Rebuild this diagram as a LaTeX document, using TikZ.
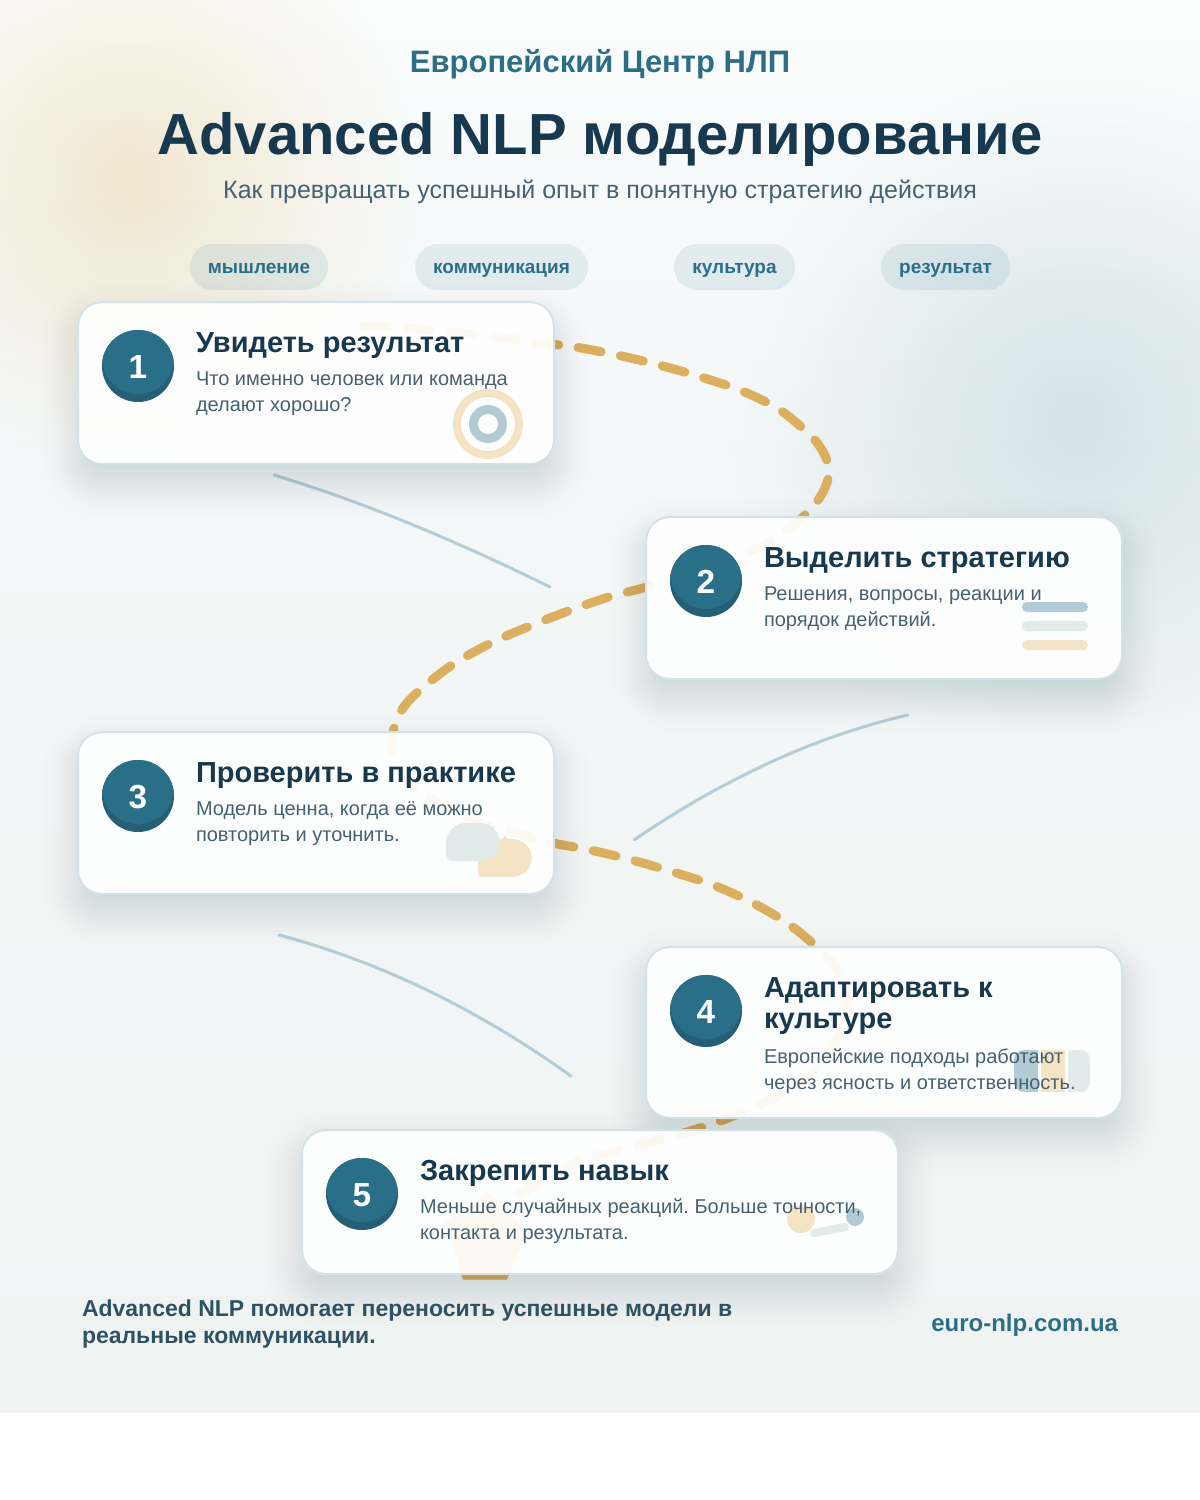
\documentclass[tikz,border=0pt]{standalone}
\usepackage{fontspec}
\setmainfont{Liberation Sans}
\usetikzlibrary{fadings}
\definecolor{tealc}{HTML}{2A6F88}
\definecolor{tealdark}{HTML}{245F75}
\definecolor{navy}{HTML}{17394F}
\definecolor{slate}{HTML}{466272}
\definecolor{footc}{HTML}{2F5263}
\definecolor{goldc}{HTML}{DBAF5B}
\definecolor{cardline}{HTML}{D3E1E8}
\definecolor{thinc}{HTML}{B5CDD6}
\definecolor{icblue}{HTML}{B3CBD5}
\definecolor{icmint}{HTML}{E0EBEA}
\definecolor{icsand}{HTML}{F4E4C4}
\definecolor{glowsand}{HTML}{E6C98C}
\definecolor{glowblue}{HTML}{A9C6D4}
\definecolor{shadowc}{HTML}{1F3F4F}
\definecolor{bgtop}{HTML}{FBFDFD}
\definecolor{bgmid}{HTML}{F3F7F7}
\definecolor{bgbot}{HTML}{EFF4F3}
\tikzfading[name=glowfade, inner color=transparent!0, outer color=transparent!100]
\tikzset{
  x=0.75pt, y=-0.75pt,
  every node/.style={inner sep=0pt, outer sep=0pt},
  cardbox/.style={rounded corners=18pt, fill=white, fill opacity=0.92, draw=cardline, line width=1.5pt, anchor=north west},
  disc/.style={circle, minimum size=54pt, fill=tealdark, text=white, font=\fontsize{25}{30}\selectfont\bfseries,
    path picture={\fill[tealc] ([yshift=6pt]path picture bounding box.center) circle (27pt);}},
  cardtitle/.style={anchor=base west, align=left, text=navy, font=\fontsize{21.75}{23.25}\selectfont\bfseries},
  cardbody/.style={anchor=base west, text=slate, font=\fontsize{15}{19.5}\selectfont},
  pill/.style={rounded corners=17.25pt, fill=tealc, fill opacity=0.1, anchor=north west},
  pilltext/.style={anchor=base, text=tealc, font=\fontsize{14.25}{17}\selectfont\bfseries},
  goldpath/.style={draw=goldc, line width=6.75pt, line cap=round, line join=round, dash pattern=on 17.6pt off 14.7pt},
  thinpath/.style={draw=thinc, line width=2.25pt, line cap=round},
}
\newcommand\cardshadow[4]{%
  \begin{scope}[even odd rule]
    \clip[rounded corners=18pt] (#1,#2) rectangle (#3,#4) [sharp corners] (-50,-50) rectangle (1250,1550);
    \foreach \s in {36,32,...,-36}{%
      \pgfmathsetmacro\rr{max(3,(24+\s)*0.75)}
      \pgfmathsetmacro\aa{0.0136*exp(-\s*\s/800)}
      \fill[shadowc, fill opacity=\aa, rounded corners=\rr pt]
        ({#1-\s},{#2+18-\s}) rectangle ({#3+\s},{#4+18+\s});
    }
  \end{scope}}
\newcommand\digit[1]{\raisebox{-0.75pt}[\height][0pt]{#1}}
\begin{document}
\frenchspacing
\begin{tikzpicture}
\useasboundingbox (0,0) rectangle (1200,1500);
% page background
\fill[white] (0,0) rectangle (1200,1500);
\begin{scope}
  \clip (0,0) rectangle (1200,1412.5);
  \shade[top color=bgtop, bottom color=bgmid] (0,0) rectangle (1200,480);
  \shade[top color=bgmid, bottom color=bgbot] (0,480) rectangle (1200,1412.5);
  \fill[glowsand, fill opacity=0.38, path fading=glowfade] (130,180) circle (285);
  \fill[glowblue, fill opacity=0.42, path fading=glowfade] (1077,420) circle (345);
\end{scope}
% header
\node[anchor=base, text=tealc, font=\fontsize{23.25}{28}\selectfont\bfseries] (kicker) at (600,72) {Европейский Центр НЛП};
\node[anchor=base, text=navy, font=\fontsize{43.5}{50}\selectfont\bfseries] (maintitle) at (600,154.5) {Advanced NLP моделирование};
\node[anchor=base, text=slate, font=\fontsize{18.75}{24}\selectfont] (subtitle) at (600,198.5) {Как превращать успешный опыт в понятную стратегию действия};
% pills
\path[pill] (190,244) rectangle (328,290);
\path[pill] (415,244) rectangle (588,290);
\path[pill] (674,244) rectangle (795,290);
\path[pill] (881,244) rectangle (1010,290);
\node[pilltext] (p1) at (259,273) {мышление};
\node[pilltext] (p2) at (501.5,273) {коммуникация};
\node[pilltext] (p3) at (734.5,273) {культура};
\node[pilltext] (p4) at (945.5,273) {результат};
% thin curves
\coordinate (a1) at (274,475); \coordinate (a2) at (550,587);
\coordinate (b1) at (908,715); \coordinate (b2) at (634,840);
\coordinate (c1) at (279,935); \coordinate (c2) at (571,1076);
\draw[thinpath] (a1) .. controls (358,500.3) and (450,537.7) .. (a2);
\draw[thinpath] (b1) .. controls (816.7,736) and (725.3,777.7) .. (b2);
\draw[thinpath] (c1) .. controls (379.7,961.7) and (477,1008.7) .. (c2);
% gold dashed route
\draw[goldpath] plot[smooth, tension=0.55] coordinates {
 (364,325) (405,328) (447,332) (490,336) (533,342) (575,347) (617,355) (659,365) (701,377) (742,391) (780,410)
 (813,438) (826,458) (829,474) (822,494) (806,514) (783,532) (747,553) (653,585) (612,596) (571,610) (530,626) (491,643)
 (452,665) (420,690) (403,708) (394,728) (392,752) (400,770) (415,788) (470,820) (507,830) (548,842) (590,850) (632,860) (673,872)
 (713,885) (753,903) (790,925) (823,953) (842,978) (848,1005) (840,1035) (815,1070) (783,1093) (743,1112) (703,1127)
 (662,1139) (620,1150) (577,1162) (540,1182) (490,1214)};
\fill[goldc] (463,1279.5) -- (507,1279.5) -- (527,1232) -- (488,1192) -- (445,1222) -- cycle;
% card 1
\cardshadow{77}{301}{555}{464}
\node[cardbox, minimum width=357pt, minimum height=121.5pt] (card1) at (78,302) {};
\draw[icsand, line width=6pt] (488,424) circle (31);
\draw[icblue, line width=6.75pt] (488,424) circle (14.5);
\node[disc] (n1) at (138,366) {\digit{1}};
\node[cardtitle] (t1) at (196,352) {Увидеть результат};
\node[cardbody] (b1a) at (196,385) {Что именно человек или команда};
\node[cardbody] (b1b) at (196,411) {делают хорошо?};
% card 2
\cardshadow{645}{516}{1123}{679}
\node[cardbox, minimum width=357pt, minimum height=121.5pt] (card2) at (646,517) {};
\fill[icblue, rounded corners=3.7pt] (1022,602) rectangle (1088,612);
\fill[icmint, rounded corners=3.7pt] (1022,621) rectangle (1088,631);
\fill[icsand, rounded corners=3.7pt] (1022,640) rectangle (1088,650);
\node[disc] (n2) at (706,581) {\digit{2}};
\node[cardtitle] (t2) at (764,567) {Выделить стратегию};
\node[cardbody] (b2a) at (764,600) {Решения, вопросы, реакции и};
\node[cardbody] (b2b) at (764,626) {порядок действий.};
% card 3
\cardshadow{77}{731}{555}{894}
\node[cardbox, minimum width=357pt, minimum height=121.5pt] (card3) at (78,732) {};
\fill[icsand] (505,839) [rounded corners=15pt] -- (532,839) -- (532,877) -- (490,877) [rounded corners=3pt] -- (478,877) -- (478,839) -- (505,839) -- cycle;
\fill[icmint] (446,842) [rounded corners=15pt] -- (446,823) -- (500,823) -- (500,861) -- (460,861) [rounded corners=4pt] -- (446,861) -- (446,842) -- cycle;
\node[disc] (n3) at (138,796) {\digit{3}};
\node[cardtitle] (t3) at (196,782) {Проверить в практике};
\node[cardbody] (b3a) at (196,815) {Модель ценна, когда её можно};
\node[cardbody] (b3b) at (196,841) {повторить и уточнить.};
% card 4
\cardshadow{645}{946}{1123}{1118}
\node[cardbox, minimum width=357pt, minimum height=128.25pt] (card4) at (646,947) {};
\begin{scope}
  \clip[rounded corners=7.5pt] (1014,1050) rectangle (1090,1092);
  \fill[icblue] (1014,1050) rectangle (1038,1092);
  \fill[icsand] (1041,1050) rectangle (1065,1092);
  \fill[icmint] (1068,1050) rectangle (1090,1092);
\end{scope}
\node[disc] (n4) at (706,1011) {\digit{4}};
\node[cardtitle] (t4a) at (764,997) {Адаптировать к};
\node[cardtitle] (t4b) at (764,1028) {культуре};
\node[cardbody] (b4a) at (764,1063) {Европейские подходы работают};
\node[cardbody] (b4b) at (764,1089) {через ясность и ответственность.};
% card 5
\cardshadow{301}{1129}{899}{1275}
\node[cardbox, minimum width=447pt, minimum height=108pt] (card5) at (302,1130) {};
\fill[icsand] (801,1219) circle (14);
\fill[icblue] (855,1217) circle (9);
\draw[icmint, line width=6pt, line cap=round] (814,1233) -- (845,1227);
\node[disc] (n5) at (362,1194) {\digit{5}};
\node[cardtitle] (t5) at (420,1180) {Закрепить навык};
\node[cardbody] (b5a) at (420,1213) {Меньше случайных реакций. Больше точности,};
\node[cardbody] (b5b) at (420,1239) {контакта и результата.};
% footer
\node[anchor=base west, text=footc, font=\fontsize{17.25}{20}\selectfont\bfseries] (f1) at (82,1316.5) {Advanced NLP помогает переносить успешные модели в};
\node[anchor=base west, text=footc, font=\fontsize{17.25}{20}\selectfont\bfseries] (f2) at (82,1343.5) {реальные коммуникации.};
\node[anchor=base east, text=tealc, font=\fontsize{18}{22}\selectfont\bfseries] (site) at (1118,1331) {euro-nlp.com.ua};
\end{tikzpicture}
\end{document}
